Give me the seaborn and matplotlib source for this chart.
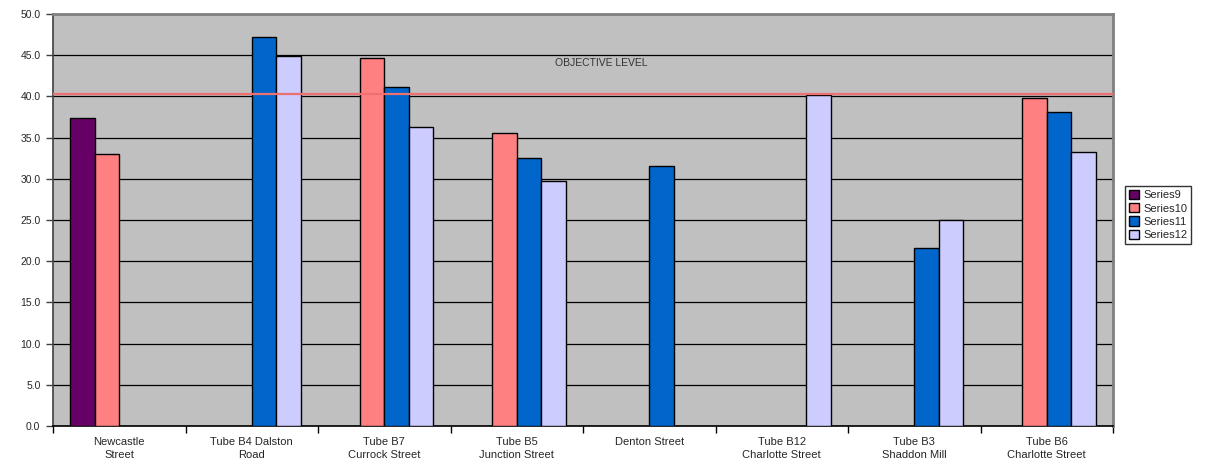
import numpy as np
import pandas as pd
import matplotlib
matplotlib.use("Agg")
import matplotlib.pyplot as plt
from matplotlib.ticker import FormatStrFormatter
import seaborn as sns

# Monitoring sites and annual mean values per survey series
sites = [
    "Newcastle\nStreet",
    "Tube B4 Dalston\nRoad",
    "Tube B7\nCurrock Street",
    "Tube B5\nJunction Street",
    "Denton Street",
    "Tube B12\nCharlotte Street",
    "Tube B3\nShaddon Mill",
    "Tube B6\nCharlotte Street",
]
series_names = ["Series9", "Series10", "Series11", "Series12"]
series9 = [37.4, np.nan, np.nan, np.nan, np.nan, np.nan, np.nan, np.nan]
series10 = [33.0, np.nan, 44.6, 35.6, np.nan, np.nan, np.nan, 39.8]
series11 = [np.nan, 47.2, 41.1, 32.5, 31.5, np.nan, 21.6, 38.1]
series12 = [np.nan, 44.9, 36.3, 29.7, np.nan, 40.2, 25.0, 33.2]
objective_level = 40.3
y_ticks = [0, 5, 10, 15, 20, 25, 30, 35, 40, 45, 50]

colors = ["#660066", "#FF8080", "#0066CC", "#CCCCFF"]

rows = []
for name, vals in zip(series_names, [series9, series10, series11, series12]):
    for site, v in zip(sites, vals):
        if not np.isnan(v):
            rows.append({"site": site, "series": name, "value": v})
df = pd.DataFrame(rows)

sns.set_theme(style="white")
plt.rcParams["font.family"] = ["Liberation Sans", "DejaVu Sans"]

fig = plt.figure(figsize=(12.19, 4.65), dpi=100)
ax = fig.add_axes([53 / 1219, 39 / 465, 1060 / 1219, 412 / 465])
ax.set_facecolor("#C0C0C0")

sns.barplot(
    data=df, x="site", y="value", hue="series",
    order=sites, hue_order=series_names, palette=colors,
    width=0.74, saturation=1, errorbar=None,
    edgecolor="black", linewidth=1.0, ax=ax, zorder=3,
)

# Horizontal gridlines
ax.set_axisbelow(True)
ax.yaxis.grid(True, color="black", linewidth=0.9)
ax.xaxis.grid(False)

ax.set_ylim(0, 50)
ax.set_yticks(y_ticks)
ax.yaxis.set_major_formatter(FormatStrFormatter("%.1f"))
ax.tick_params(axis="y", which="major", direction="out", length=5, width=1,
               color="#404040", labelsize=7.5, pad=4, left=True)

# Category boundaries as ticks, labels centered between them
ax.set_xlim(-0.5, len(sites) - 0.5)
ax.set_xticks(np.arange(-0.5, len(sites), 1.0))
ax.set_xticklabels([""] * (len(sites) + 1))
ax.set_xticks(np.arange(len(sites)), minor=True)
ax.set_xticklabels(sites, minor=True, fontsize=8, linespacing=1.35)
ax.tick_params(axis="x", which="major", direction="out", length=5, width=1,
               color="black", bottom=True)
ax.tick_params(axis="x", which="minor", length=0, pad=8)
ax.set_xlabel("")
ax.set_ylabel("")

for side in ["top", "right"]:
    ax.spines[side].set_color("#808080")
    ax.spines[side].set_linewidth(2)
ax.spines["left"].set_color("#404040")
ax.spines["left"].set_linewidth(1.2)
ax.spines["bottom"].set_color("black")
ax.spines["bottom"].set_linewidth(1.2)

# Objective level line and caption
ax.axhline(objective_level, color="#EE7070", linewidth=1.6, zorder=4)
ax.text(3.64, 44.0, "OBJECTIVE LEVEL", ha="center", va="center",
        fontsize=7.5, color="#333333")

leg = ax.legend(
    loc="upper left", bbox_to_anchor=(1125 / 1219, 1 - 186 / 465),
    bbox_transform=fig.transFigure, frameon=True, fancybox=False,
    edgecolor="black", fontsize=8, handlelength=0.9, handleheight=0.9,
    handletextpad=0.4, borderpad=0.35, labelspacing=0.25, borderaxespad=0,
)
leg.get_frame().set_linewidth(1.0)
leg.get_frame().set_facecolor("white")

fig.savefig("out.png", dpi=100, facecolor="white")
